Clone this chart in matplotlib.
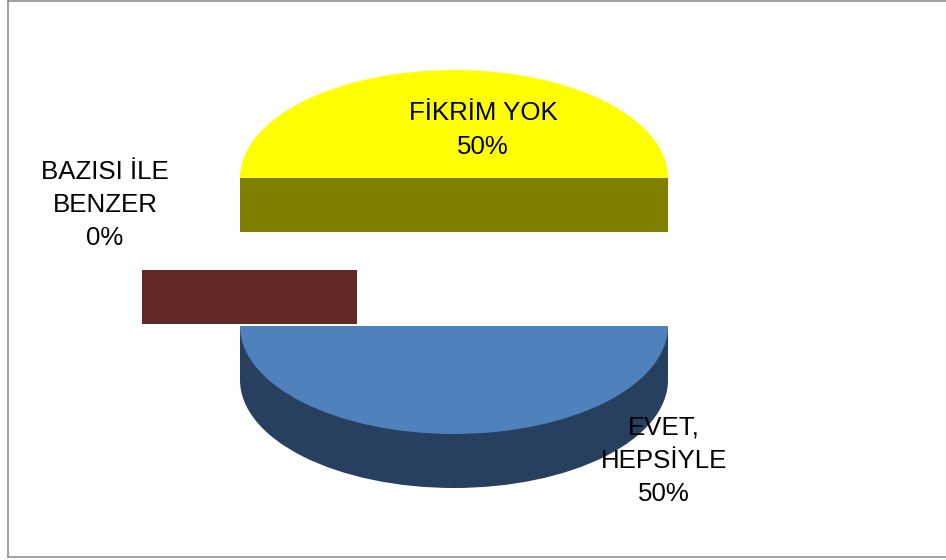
import matplotlib
matplotlib.use("Agg")
import matplotlib.pyplot as plt
from matplotlib.lines import Line2D

names = ["EVET,\nHEPSİYLE", "BAZISI İLE\nBENZER", "FİKRİM YOK"]
values = [50, 0, 50]
top_colors = ["#4F81BD", "#632828", "#FFFF00"]
side_colors = ["#274060", "#632828", "#808000"]
label_pos = [(664, 461), (105, 205), (483, 130)]

W, H = 946, 560
RX, RY = 214, 108   # pie radius in pixels, x and y (tilted)
CX, CY = 454, 252   # pie centre in pixels
DEPTH = 54 / RY
EXPL = 74 / RY

plt.rcParams['font.family'] = ['Liberation Sans', 'DejaVu Sans']

fig = plt.figure(figsize=(W / 100, H / 100), dpi=100)
ax = fig.add_axes([0, 0, 1, 1])

# one data unit is one pie radius
explode = [EXPL, 97 / RX, EXPL]

# side of the pie first, then the top face on it
ax.pie(values, colors=side_colors, center=(0, -DEPTH), explode=explode,
       startangle=0, counterclock=False, wedgeprops={'linewidth': 0})
ax.bar(0, DEPTH, width=2, bottom=EXPL - DEPTH, color=side_colors[2], linewidth=0)
ax.bar(0, DEPTH, width=2, bottom=-EXPL - DEPTH, color=side_colors[0], linewidth=0)
ax.pie(values, colors=top_colors, center=(0, 0), explode=explode,
       startangle=0, counterclock=False, wedgeprops={'linewidth': 0})

# the 0% slice only shows its cut face
ax.bar(-explode[1] - 215 / RX / 2, DEPTH, width=215 / RX, bottom=(CY - 324) / RY,
       color=side_colors[1], linewidth=0)

ax.set_aspect('auto')
ax.set_xlim(-CX / RX, (W - CX) / RX)
ax.set_ylim((CY - H) / RY, CY / RY)
ax.axis('off')

for name, v, (px, py) in zip(names, values, label_pos):
    fig.text(px / W, 1 - py / H, f"{name}\n{v}%", ha='center', va='center',
             fontsize=18.6, color='black', linespacing=1.49, zorder=10)

# chart frame, the right side falls outside the image
for xs, ys in [([8, 8], [0.5, 557]), ([8, W], [0.5, 0.5]), ([8, W], [557, 557])]:
    fig.add_artist(Line2D([x / W for x in xs], [1 - y / H for y in ys],
                          color='#868686', linewidth=1.1))

fig.savefig("out.png", dpi=100)
